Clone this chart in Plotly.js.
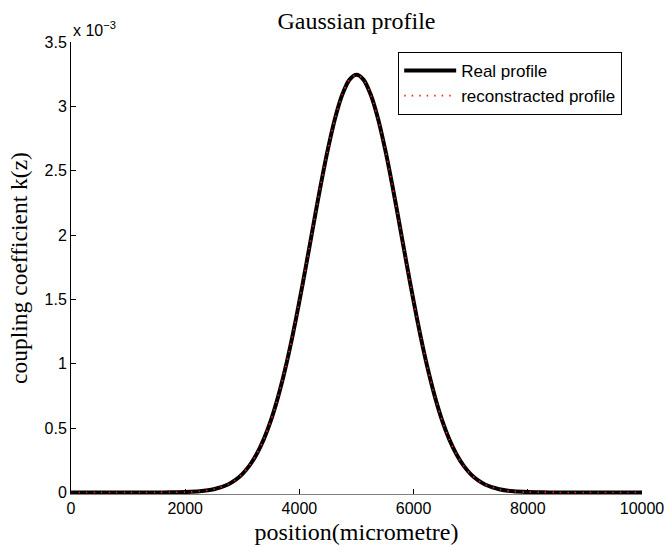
<!DOCTYPE html>
<html>
<head>
<meta charset="utf-8">
<script src="https://cdn.plot.ly/plotly-3.0.1.min.js"></script>
<style>html,body{margin:0;padding:0;background:#fff;}#chart{width:669px;height:547px;}</style>
</head>
<body>
<div id="chart"></div>
<script>
// position along grating (micrometre)
var position = [0,250,500,750,1000,1250,1500,1750,2000,2250,2500,2750,2875,3000,3125,3250,3375,3500,3625,3750,3875,4000,4125,4250,4375,4500,4625,4750,4875,
                5000,5125,5250,5375,5500,5625,5750,5875,6000,6125,6250,6375,6500,6625,6750,6875,7000,7125,7250,7500,7750,8000,8250,8500,8750,9000,9250,9500,9750,10000];
// coupling coefficient k(z), in units of 1e-3
var realProfile = [0,0,0,0,0,0.0001,0.0002,0.0009,0.0029,0.0088,0.0246,0.0622,0.0953,0.1426,0.208,0.2966,0.4125,0.559,0.741,0.957,1.207,1.486,1.784,2.091,2.392,2.669,2.908,3.090,3.206,
                   3.245,3.206,3.090,2.908,2.669,2.392,2.091,1.784,1.486,1.207,0.957,0.741,0.559,0.4125,0.2966,0.208,0.1426,0.0953,0.0622,0.0246,0.0088,0.0029,0.0009,0.0002,0.0001,0,0,0,0,0];
var reconProfile = [0,0,0,0,0,0.0001,0.0002,0.0009,0.0029,0.0088,0.0246,0.0622,0.0953,0.1426,0.208,0.2966,0.4125,0.559,0.741,0.957,1.207,1.486,1.784,2.091,2.392,2.669,2.908,3.090,3.206,
                    3.245,3.206,3.090,2.908,2.669,2.392,2.091,1.784,1.486,1.207,0.957,0.741,0.559,0.4125,0.2966,0.208,0.1426,0.0953,0.0622,0.0246,0.0088,0.0029,0.0009,0.0002,0.0001,0,0,0,0,0];
var xTicks = [0,2000,4000,6000,8000,10000];
var yTicks = [0,0.5,1,1.5,2,2.5,3,3.5];
var yTickText = ['0','0.5','1','1.5','2','2.5','3','3.5'];

var sans = 'Liberation Sans, Arial, sans-serif';
var serif = 'Liberation Serif, Times New Roman, serif';

var traces = [
  {x: position, y: realProfile, type: 'scatter', mode: 'lines', name: 'Real profile',
   line: {color: '#000000', width: 4, shape: 'spline', smoothing: 0.8}},
  {x: position, y: reconProfile, type: 'scatter', mode: 'lines', name: 'reconstracted profile',
   line: {color: '#ff1a1a', width: 1.6, dash: '1.5px,6px', shape: 'spline', smoothing: 0.8}}
];

var layout = {
  width: 669, height: 547,
  margin: {l: 71, r: 27, t: 42, b: 53},
  paper_bgcolor: '#ffffff', plot_bgcolor: '#ffffff',
  showlegend: true,
  title: {text: 'Gaussian profile', font: {family: serif, size: 24, color: '#000'},
          x: 0.5, xref: 'paper', xanchor: 'center', y: 0.963, yanchor: 'middle'},
  xaxis: {range: [0, 10000], tickvals: xTicks, ticktext: xTicks.map(String),
          ticks: 'inside', ticklen: 5, tickcolor: '#000', showgrid: false, zeroline: false,
          showline: true, linecolor: '#808080', linewidth: 1,
          tickfont: {family: sans, size: 16, color: '#000'},
          title: {text: 'position(micrometre)', font: {family: serif, size: 24, color: '#000'}, standoff: 6}},
  yaxis: {range: [-0.012, 3.5], tickvals: yTicks, ticktext: yTickText,
          ticks: 'inside', ticklen: 5, tickcolor: '#000', showgrid: false, zeroline: false,
          showline: true, linecolor: '#000', linewidth: 1,
          tickfont: {family: sans, size: 16, color: '#000'},
          title: {text: 'coupling coefficient k(z)', font: {family: serif, size: 23.5, color: '#000'}, standoff: 10}},
  legend: {x: 0.573, y: 0.978, xanchor: 'left', yanchor: 'top',
           bgcolor: '#ffffff', bordercolor: '#000', borderwidth: 1,
           font: {family: sans, size: 17, color: '#000'}, itemwidth: 52, tracegroupgap: 0},
  annotations: [
    {text: 'x 10<sup>−3</sup>', xref: 'paper', yref: 'paper', x: 0, y: 1, xanchor: 'left', yanchor: 'bottom',
     yshift: 1, showarrow: false, font: {family: sans, size: 16, color: '#000'}}
  ]
};

Plotly.newPlot('chart', traces, layout, {displayModeBar: false, staticPlot: true});
</script>
</body>
</html>
